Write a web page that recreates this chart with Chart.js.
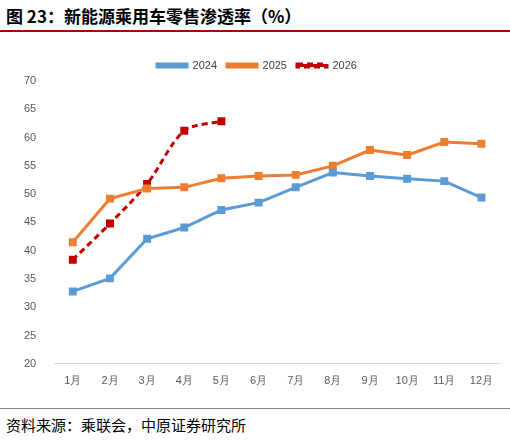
<!DOCTYPE html>
<html><head><meta charset="utf-8">
<script src="https://cdn.jsdelivr.net/npm/chart.js@4"></script>
<style>
body{margin:0;width:510px;height:441px;background:#fff;font-family:"Noto Sans CJK SC",sans-serif;position:relative;overflow:hidden}
#title{position:absolute;left:6px;top:3px;font-size:17px;font-weight:bold;color:#000}
#tl{position:absolute;left:0;top:30px;width:510px;height:2px;background:#b00000}
#cw{position:absolute;left:0;top:40px;width:510px;height:365px}
#fl{position:absolute;left:0;top:408px;width:510px;height:1px;background:#888}
#foot{position:absolute;left:6px;top:414px;font-size:15px;color:#000}
</style></head><body>
<div id="title">图 23：新能源乘用车零售渗透率（%）</div><div id="tl"></div>
<div id="cw"><canvas id="c"></canvas></div>
<div id="fl"></div><div id="foot">资料来源：乘联会，中原证券研究所</div>
<script>
const categories=["1月","2月","3月","4月","5月","6月","7月","8月","9月","10月","11月","12月"];
const s2024=[32.8,35.1,42.1,44.1,47.2,48.5,51.2,53.8,53.2,52.7,52.3,49.4];
const s2025=[41.5,49.2,51.0,51.2,52.8,53.2,53.4,55.0,57.8,56.9,59.2,58.9];
const s2026=[38.4,44.8,51.8,61.2,62.9];
const yTicks=[20,25,30,35,40,45,50,55,60,65,70];
new Chart(document.getElementById('c'),{type:'line',
data:{labels:categories,datasets:[
{label:'2024',data:s2024,borderColor:'#5b9bd5',backgroundColor:'#5b9bd5',borderWidth:3,pointStyle:'rect',pointRadius:3.5},
{label:'2025',data:s2025,borderColor:'#ed7d31',backgroundColor:'#ed7d31',borderWidth:3,pointStyle:'rect',pointRadius:3.5},
{label:'2026',data:s2026,borderColor:'#c00000',backgroundColor:'#c00000',borderWidth:3,borderDash:[6,4],pointStyle:'rect',pointRadius:3.5,tension:0.3}]},
options:{responsive:true,maintainAspectRatio:false,animation:false,
layout:{padding:{left:14,right:10,top:10,bottom:14}},
plugins:{legend:{labels:{usePointStyle:false,boxWidth:30,boxHeight:3,font:{size:11},color:'#404040',padding:10},onClick:null},tooltip:{enabled:false}},
scales:{x:{offset:true,grid:{display:false},border:{color:'#d9d9d9'},ticks:{color:'#595959',font:{size:11}}},
y:{min:20,max:70,grid:{display:false},border:{display:false},afterBuildTicks:a=>{a.ticks=yTicks.map(v=>({value:v}))},ticks:{color:'#595959',font:{size:11},padding:10}}}}});
</script></body></html>
